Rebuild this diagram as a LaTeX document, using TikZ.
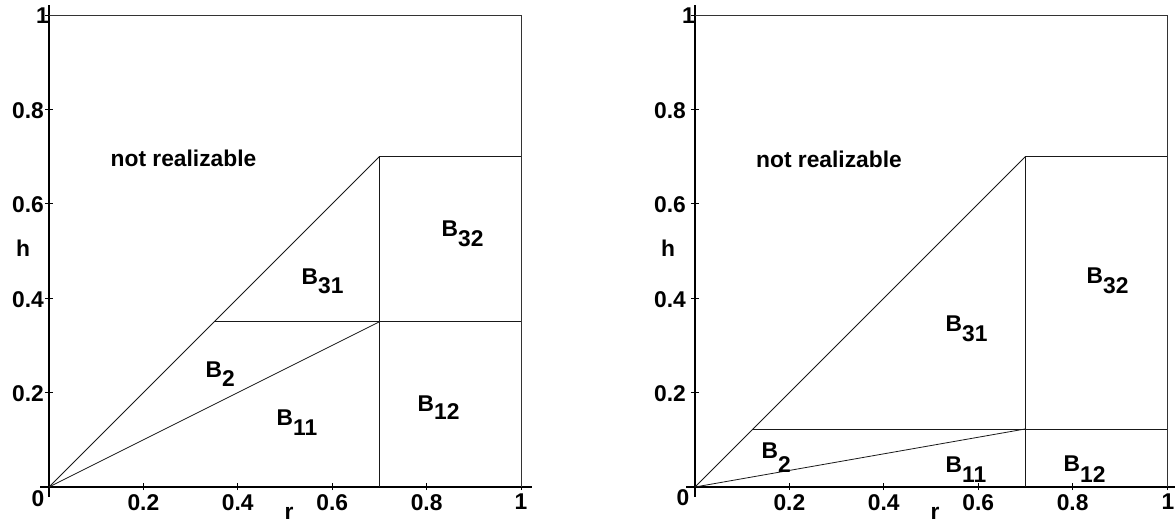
\documentclass[tikz,border=0pt]{standalone}
\usepackage{fontspec}
\setmainfont{Liberation Sans}
\newcommand\Bs[2][10pt]{B\raisebox{-#1}{#2}}
\begin{document}
\begin{tikzpicture}[x=1pt,y=-1pt,
  lbl/.style={font=\fontsize{22.8}{22.8}\selectfont\bfseries, inner sep=0pt},
  reg/.style={line width=0.8pt, draw=black!90},
  ax/.style={line width=1.1pt, draw=black},
  frm/.style={line width=0.8pt, draw=black!80}]
\useasboundingbox (0,0) rectangle (1175,525);

% ---------- left plot ----------
\begin{scope}[shift={(49,487)}, x=472pt, y=472pt]
  \coordinate (LO) at (0,0);
  \coordinate (LA) at (0.7,0.7);
  \coordinate (LB) at (0.7,0.35);
  \coordinate (LC) at (0.35,0.35);
  \coordinate (LD) at (1,0.35);
  \coordinate (LE) at (0.7,0);
  \coordinate (LF) at (1,0.7);
  \coordinate (LX0) at (-0.019,0);
  \coordinate (LX1) at (1.023,0);
  \coordinate (LY0) at (0,-0.021);
  \coordinate (LY1) at (0,1.021);
  \draw[ax] (LX0) -- (LX1);
  \draw[ax] (LY0) -- (LY1);
  \foreach \t in {0.2,0.4,0.6,0.8,1} {
    \draw[ax, line width=0.8pt] (\t,-0.0065) -- (\t,0.0085);
    \draw[ax, line width=0.8pt] (-0.0085,\t) -- (0.0085,\t);
  }
  \draw[frm] (0,1) -- (1,1) -- (1,0);
  \draw[reg] (LO) -- (LA);
  \draw[reg] (LO) -- (LB);
  \draw[reg] (LC) -- (LD);
  \draw[reg] (LE) -- (LA) -- (LF);
\end{scope}
% left tick labels
\foreach \v/\py in {0.8/109.4,0.6/203.8,0.4/298.2,0.2/392.6} {
  \node[lbl, anchor=east] at (44,\py+1) {\v};
}
\node[lbl, anchor=east] (l1y) at (49,16) {1};
\foreach \v/\px in {0.2/143.4,0.4/237.8,0.6/332.2,0.8/426.6,1/521} {
  \node[lbl, anchor=north] at (\px,494) {\v};
}
\node[lbl] (l0) at (38,499) {0};
\node[lbl] (lh) at (23,248) {h};
\node[lbl] (lr) at (289,513) {r};
\node[lbl] (lnr) at (183.5,158.5) {not realizable};
\node[lbl, anchor=base west] (lb2) at (205.5,377) {\Bs[9pt]{2}};
\node[lbl, anchor=base west] (lb11) at (276.5,425) {\Bs{11}};
\node[lbl, anchor=base west] (lb12) at (417.5,411) {\Bs[8pt]{12}};
\node[lbl, anchor=base west] (lb31) at (301.5,284) {\Bs[9pt]{31}};
\node[lbl, anchor=base west] (lb32) at (441.5,236) {\Bs{32}};

% ---------- right plot ----------
\begin{scope}[shift={(695,487)}, x=472pt, y=472pt]
  \coordinate (RO) at (0,0);
  \coordinate (RA) at (0.7,0.7);
  \coordinate (RB) at (0.7,0.123);
  \coordinate (RC) at (0.123,0.123);
  \coordinate (RD) at (1,0.123);
  \coordinate (RE) at (0.7,0);
  \coordinate (RF) at (1,0.7);
  \coordinate (RX0) at (-0.019,0);
  \coordinate (RX1) at (1.023,0);
  \coordinate (RY0) at (0,-0.021);
  \coordinate (RY1) at (0,1.021);
  \draw[ax] (RX0) -- (RX1);
  \draw[ax] (RY0) -- (RY1);
  \foreach \t in {0.2,0.4,0.6,0.8,1} {
    \draw[ax, line width=0.8pt] (\t,-0.0065) -- (\t,0.0085);
    \draw[ax, line width=0.8pt] (-0.0085,\t) -- (0.0085,\t);
  }
  \draw[frm] (0,1) -- (1,1) -- (1,0);
  \draw[reg] (RO) -- (RA);
  \draw[reg] (RO) -- (RB);
  \draw[reg] (RC) -- (RD);
  \draw[reg] (RE) -- (RA) -- (RF);
\end{scope}
\foreach \v/\py in {0.8/109.4,0.6/203.8,0.4/298.2,0.2/392.6} {
  \node[lbl, anchor=east] at (686,\py+1) {\v};
}
\node[lbl, anchor=east] (r1y) at (695,16) {1};
\foreach \v/\px in {0.2/789.4,0.4/883.8,0.6/978.2,0.8/1072.6,1/1168} {
  \node[lbl, anchor=north] at (\px,494) {\v};
}
\node[lbl] (r0) at (683,498) {0};
\node[lbl] (rh) at (668,248) {h};
\node[lbl] (rr) at (935,513) {r};
\node[lbl] (rnr) at (829,159) {not realizable};
\node[lbl, anchor=base west] (rb2) at (761.5,458) {\Bs[14pt]{2}};
\node[lbl, anchor=base west] (rb11) at (945.5,472) {\Bs{11}};
\node[lbl, anchor=base west] (rb12) at (1063.5,471) {\Bs[11pt]{12}};
\node[lbl, anchor=base west] (rb31) at (945.5,331) {\Bs{31}};
\node[lbl, anchor=base west] (rb32) at (1086.5,283) {\Bs{32}};
\end{tikzpicture}
\end{document}
